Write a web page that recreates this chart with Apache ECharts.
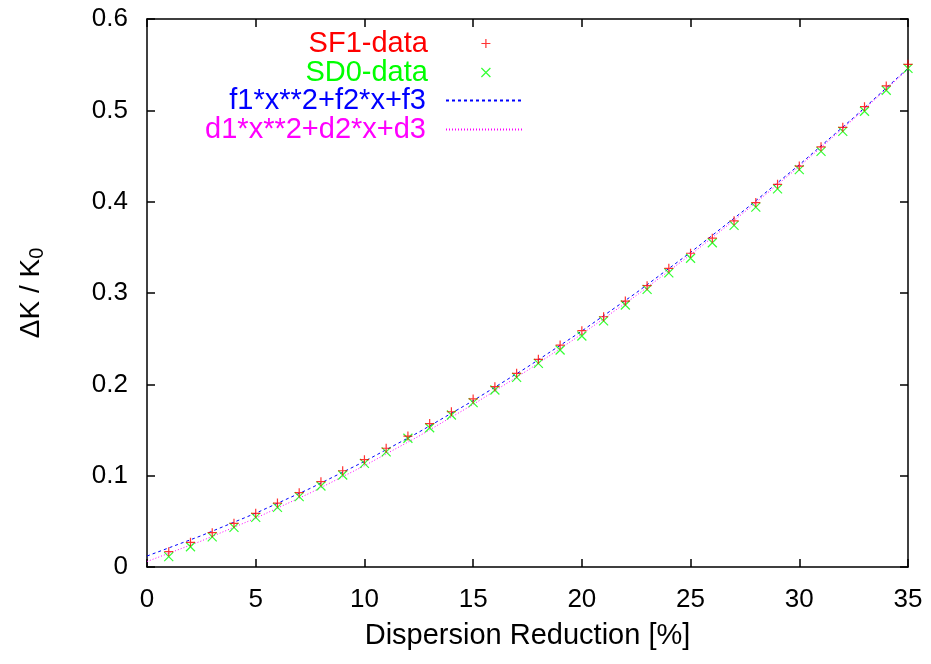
<!DOCTYPE html>
<html>
<head>
<meta charset="utf-8">
<script src="https://cdn.jsdelivr.net/npm/echarts@6/dist/echarts.min.js"></script>
<style>
html,body{margin:0;padding:0;background:#fff;}
#c{width:931px;height:664px;}
</style>
</head>
<body>
<div id="c"></div>
<script>
// x positions (Dispersion Reduction [%])
const xData = [1,2,3,4,5,6,7,8,9,10,11,12,13,14,15,16,17,18,19,20,21,22,23,24,25,26,27,28,29,30,31,32,33,34,35];
// SF1-data (red +)
const sf1 = [0.0168,0.027,0.0376,0.0478,0.0588,0.070,0.0814,0.0934,0.1054,0.1175,0.130,0.1434,0.157,0.170,0.184,0.1974,0.212,0.2274,0.243,0.2587,0.274,0.2912,0.308,0.327,0.3435,0.360,0.379,0.399,0.419,0.439,0.460,0.4814,0.504,0.5267,0.5504];
// SD0-data (green x)
const sd0 = [0.0113,0.0222,0.033,0.0434,0.0544,0.0653,0.077,0.0887,0.1007,0.1135,0.126,0.141,0.1525,0.1664,0.180,0.1938,0.2077,0.223,0.2376,0.2529,0.2694,0.2869,0.304,0.322,0.338,0.355,0.374,0.394,0.414,0.435,0.455,0.477,0.499,0.522,0.546];
// fit curves, read at these x positions
const fitX = [0,2.5,5,7.5,10,12.5,15,17.5,20,22.5,25,27.5,30,32.5,35];
const fitF = [0.012,0.0343,0.0589,0.086,0.1156,0.1476,0.1821,0.219,0.2584,0.3002,0.3445,0.3912,0.4404,0.492,0.5461];
const fitD = [0.006,0.0285,0.0535,0.0810,0.1109,0.1432,0.178,0.2153,0.255,0.2972,0.3419,0.389,0.4385,0.4906,0.545];
// axis ticks
const xTicks = {min:0, max:35, interval:5};
const yTicks = {min:0, max:0.6, interval:0.1};
const legendNames = ['SF1-data','SD0-data','f1*x**2+f2*x+f3','d1*x**2+d2*x+d3'];

const FONT = 'Liberation Sans, Arial, Helvetica, sans-serif';
const chart = echarts.init(document.getElementById('c'), null, {renderer:'canvas'});

function pairs(xs, ys){ return xs.map((x,i)=>[x, ys[i]]); }

const plusPath = 'path://M0,5L10,5M5,0L5,10';
const crossPath = 'path://M0,0L10,10M10,0L0,10';

function mkLegend(name, color, topCenter, isLine){
  return {
    data:[name], align:'right', orient:'vertical', padding:0,
    right: isLine ? 931-523 : 931-491, top: topCenter-13,
    itemWidth: 76, itemHeight: isLine ? 4 : 9,
    symbolKeepAspect:true,
    selectedMode:false,
    itemStyle: isLine ? {opacity:0} : {borderWidth:1.2, borderColor:color, color:color},
    textStyle:{color:color, fontSize:29, fontFamily:FONT, lineHeight:26, padding:[0,15,0,0]}
  };
}

const option = {
  animation:false,
  backgroundColor:'#fff',
  grid:{left:147, top:19, right:23, bottom:97, containLabel:false},
  legend:[
    mkLegend(legendNames[0], '#ff0000', 42, false),
    mkLegend(legendNames[1], '#00ff00', 71, false),
    mkLegend(legendNames[2], '#0000ff', 99, true),
    mkLegend(legendNames[3], '#ff00ff', 128, true)
  ],
  xAxis:[{
    type:'value', min:xTicks.min, max:xTicks.max, interval:xTicks.interval,
    name:'Dispersion Reduction [%]', nameLocation:'middle', nameGap:54,
    nameTextStyle:{fontSize:29, fontFamily:FONT, color:'#000'},
    axisLine:{show:true, onZero:false, lineStyle:{color:'#000', width:1.5}},
    axisTick:{show:true, inside:true, length:8, lineStyle:{color:'#000', width:1.5}},
    axisLabel:{fontSize:26, fontFamily:FONT, color:'#000', margin:20},
    splitLine:{show:false}
  },{
    type:'value', position:'top', min:xTicks.min, max:xTicks.max, interval:xTicks.interval,
    axisLine:{show:true, onZero:false, lineStyle:{color:'#000', width:1.5}},
    axisTick:{show:true, inside:true, length:8, lineStyle:{color:'#000', width:1.5}},
    axisLabel:{show:false}, splitLine:{show:false}
  }],
  yAxis:[{
    type:'value', min:yTicks.min, max:yTicks.max, interval:yTicks.interval,
    name:'{a|ΔK / K}{s|0}', nameLocation:'middle', nameGap:100, nameRotate:90,
    nameTextStyle:{fontFamily:FONT, color:'#000', rich:{
      a:{fontSize:28, fontFamily:FONT, color:'#000'},
      s:{fontSize:20, fontFamily:FONT, color:'#000', padding:[11,0,0,0]}
    }},
    axisLine:{show:true, onZero:false, lineStyle:{color:'#000', width:1.5}},
    axisTick:{show:true, inside:true, length:8, lineStyle:{color:'#000', width:1.5}},
    axisLabel:{fontSize:26, fontFamily:FONT, color:'#000', margin:19,
      formatter:v=>String(Math.round(v*10)/10)},
    splitLine:{show:false}
  },{
    type:'value', position:'right', min:yTicks.min, max:yTicks.max, interval:yTicks.interval,
    axisLine:{show:true, onZero:false, lineStyle:{color:'#000', width:1.5}},
    axisTick:{show:true, inside:true, length:8, lineStyle:{color:'#000', width:1.5}},
    axisLabel:{show:false}, splitLine:{show:false}
  }],
  series:[
    {name:legendNames[2], type:'line', data:pairs(fitX, fitF), showSymbol:false, symbol:'none',
     lineStyle:{color:'#0000ff', width:1, type:[3,3]}, itemStyle:{color:'#0000ff'}, z:2},
    {name:legendNames[3], type:'line', data:pairs(fitX, fitD), showSymbol:false, symbol:'none',
     lineStyle:{color:'#ff00ff', width:1, type:[1,2]}, itemStyle:{color:'#ff00ff'}, z:2},
    {name:legendNames[0], type:'scatter', data:pairs(xData, sf1), symbol:plusPath, symbolSize:9,
     itemStyle:{color:'#ff0000', borderColor:'#ff0000', borderWidth:1.2}, z:4},
    {name:legendNames[1], type:'scatter', data:pairs(xData, sd0), symbol:crossPath, symbolSize:9,
     itemStyle:{color:'#00ff00', borderColor:'#00ff00', borderWidth:1.2}, z:3}
  ]
};
chart.setOption(option);
</script>
</body>
</html>
